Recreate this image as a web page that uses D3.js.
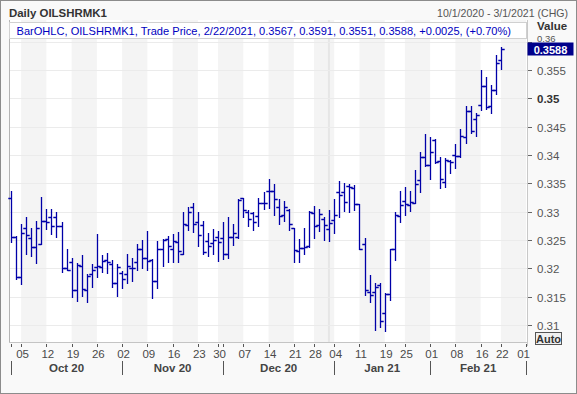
<!DOCTYPE html>
<html><head><meta charset="utf-8">
<script src="https://cdn.jsdelivr.net/npm/d3@7"></script>
<style>html,body{margin:0;padding:0;background:#fff;} svg{display:block;font-family:"Liberation Sans",Arial,sans-serif;}</style>
</head><body><svg id="c" width="577" height="394"></svg>
<script>
// ---------- data ----------
const tradingDays = [
"2020-10-01","2020-10-02","2020-10-05","2020-10-06","2020-10-07","2020-10-08","2020-10-09",
"2020-10-12","2020-10-13","2020-10-14","2020-10-15","2020-10-16","2020-10-19","2020-10-20",
"2020-10-21","2020-10-22","2020-10-23","2020-10-26","2020-10-27","2020-10-28","2020-10-29","2020-10-30",
"2020-11-02","2020-11-03","2020-11-04","2020-11-05","2020-11-06","2020-11-09","2020-11-10",
"2020-11-11","2020-11-12","2020-11-13","2020-11-16","2020-11-17","2020-11-18","2020-11-19","2020-11-20",
"2020-11-23","2020-11-24","2020-11-25","2020-11-27","2020-11-30",
"2020-12-01","2020-12-02","2020-12-03","2020-12-04","2020-12-07","2020-12-08","2020-12-09",
"2020-12-10","2020-12-11","2020-12-14","2020-12-15","2020-12-16","2020-12-17","2020-12-18",
"2020-12-21","2020-12-22","2020-12-23","2020-12-24","2020-12-28","2020-12-29","2020-12-30","2020-12-31",
"2021-01-04","2021-01-05","2021-01-06","2021-01-07","2021-01-08","2021-01-11","2021-01-12",
"2021-01-13","2021-01-14","2021-01-15","2021-01-19","2021-01-20","2021-01-21","2021-01-22",
"2021-01-25","2021-01-26","2021-01-27","2021-01-28","2021-01-29",
"2021-02-01","2021-02-02","2021-02-03","2021-02-04","2021-02-05","2021-02-08","2021-02-09",
"2021-02-10","2021-02-11","2021-02-12","2021-02-16","2021-02-17","2021-02-18","2021-02-19",
"2021-02-22","2021-02-23","2021-02-24","2021-02-25","2021-02-26","2021-03-01"];

const barOpen = [
.3324,.3256,.3184,.3271,.3253,.3237,.3243,.3284,.3290,.3291,.3274,.3200,.3212,.3162,.3205,.3162,.3190,.3202,.3202,.3215,
.3207,.3175,.3191,.3190,.3201,.3212,.3235,.3219,.3215,.3178,.3234,.3252,.3234,.3247,.3225,.3276,.3308,.3282,.3276,.3248,
.3245,.3255,.3253,.3226,.3256,.3256,.3324,.3300,.3297,.3292,.3316,.3336,.3336,.3308,.3294,.3303,.3271,.3231,.3236,.3239,
.3298,.3276,.3287,.3270,.3285,.3334,.3335,.3345,.3342,.3313,.3243,.3159,.3159,.3171,.3122,.3155,.3234,.3293,.3319,.3311,
.3315,.3356,.3397,.3382,.3426,.3390,.3352,.3389,.3400,.3399,.3432,.3478,.3464,.3488,.3521,.3487,.3515,.3567];
const barHigh = [
.3336,.3257,.3279,.3291,.3272,.3284,.3326,.3304,.3304,.3299,.3281,.3234,.3218,.3209,.3224,.3190,.3208,.3261,.3224,.3228,
.3215,.3207,.3195,.3225,.3219,.3243,.3250,.3266,.3216,.3249,.3252,.3258,.3261,.3264,.3300,.3308,.3315,.3299,.3284,.3262,
.3270,.3266,.3281,.3290,.3279,.3322,.3325,.3303,.3300,.3325,.3335,.3358,.3349,.3322,.3319,.3304,.3271,.3252,.3272,.3301,
.3310,.3304,.3291,.3303,.3322,.3354,.3350,.3349,.3348,.3313,.3254,.3188,.3175,.3174,.3156,.3235,.3299,.3336,.3343,.3337,
.3374,.3406,.3438,.3431,.3428,.3396,.3394,.3392,.3419,.3446,.3486,.3486,.3474,.3550,.3537,.3524,.3576,.3591];
const barLow = [
.3246,.3182,.3172,.3226,.3221,.3209,.3243,.3269,.3260,.3256,.3194,.3197,.3150,.3143,.3152,.3141,.3168,.3185,.3194,.3192,
.3168,.3152,.3166,.3174,.3178,.3198,.3200,.3198,.3148,.3165,.3205,.3212,.3212,.3212,.3225,.3268,.3264,.3239,.3225,.3222,
.3225,.3213,.3216,.3219,.3241,.3254,.3291,.3274,.3268,.3275,.3304,.3307,.3295,.3279,.3283,.3268,.3211,.3211,.3225,.3237,
.3254,.3266,.3250,.3249,.3262,.3290,.3302,.3299,.3303,.3234,.3153,.3141,.3092,.3096,.3090,.3145,.3214,.3282,.3295,.3302,
.3315,.3335,.3381,.3357,.3386,.3341,.3343,.3368,.3378,.3396,.3422,.3439,.3434,.3479,.3482,.3475,.3507,.3551];
const barClose = [
.3255,.3184,.3263,.3259,.3237,.3271,.3284,.3282,.3274,.3274,.3200,.3197,.3162,.3206,.3163,.3186,.3198,.3204,.3213,.3211,
.3175,.3202,.3182,.3204,.3200,.3234,.3219,.3213,.3178,.3235,.3250,.3240,.3248,.3231,.3278,.3300,.3278,.3259,.3229,.3239,
.3250,.3247,.3225,.3256,.3262,.3321,.3303,.3287,.3281,.3315,.3315,.3336,.3322,.3293,.3309,.3279,.3232,.3236,.3238,.3299,
.3275,.3296,.3276,.3280,.3294,.3329,.3318,.3343,.3313,.3235,.3161,.3153,.3168,.3108,.3155,.3234,.3294,.3312,.3313,.3318,
.3349,.3397,.3382,.3405,.3387,.3358,.3391,.3388,.3399,.3434,.3478,.3442,.3471,.3521,.3485,.3515,.3562,.3588];

const weekStarts = ["2020-10-05","2020-10-12","2020-10-19","2020-10-26","2020-11-02","2020-11-09","2020-11-16",
"2020-11-23","2020-11-30","2020-12-07","2020-12-14","2020-12-21","2020-12-28","2021-01-04","2021-01-11",
"2021-01-19","2021-01-25","2021-02-01","2021-02-08","2021-02-16","2021-02-22","2021-03-01"];
const weekLabels = ["05","12","19","26","02","09","16","23","30","07","14","21","28","04","11","19","25","01","08","16","22","01"];
const monthStarts = ["2020-10-01","2020-11-02","2020-12-01","2021-01-04","2021-02-01","2021-03-01"];
const monthLabels = ["Oct 20","Nov 20","Dec 20","Jan 21","Feb 21"];
const yTicks = [0.31,0.315,0.32,0.325,0.33,0.335,0.34,0.345,0.35,0.355,0.36];
const yTickLabels = ["0.31","0.315","0.32","0.325","0.33","0.335","0.34","0.345","0.35","0.355","0.36"];
const boldTick = "0.35";
const titleText = "Daily OILSHRMK1";
const rangeText = "10/1/2020 - 3/1/2021 (CHG)";
const legendText = "BarOHLC, OILSHRMK1, Trade Price, 2/22/2021, 0.3567, 0.3591, 0.3551, 0.3588, +0.0025, (+0.70%)";
const lastPrice = 0.3588;
const lastPriceLabel = "0.3588";
const yearBreak = "2020-12-31";

// ---------- layout ----------
const W = 577, H = 394;
const plot = {left: 9, right: 527, top: 20, bottom: 342};
const barColor = "#0000a8";

const svg = d3.select("#c");
svg.append("rect").attr("x",0.5).attr("y",0.5).attr("width",W-1).attr("height",H-1)
  .attr("fill","#f9f9f9").attr("stroke","#8c8c8c");

const x = d3.scalePoint().domain(tradingDays).range([11, 526.1]);
const y = d3.scaleLinear().domain([0.30701, 0.36383]).range([plot.bottom, plot.top]);

// plot background
svg.append("rect").attr("x",plot.left).attr("y",plot.top).attr("width",plot.right-plot.left)
  .attr("height",plot.bottom-plot.top).attr("fill","#ffffff");

// alternating week bands
const bandG = svg.append("g");
weekStarts.forEach((d,k)=>{
  if (k%2===0 && k+1<weekStarts.length){
    const x0 = x(d), x1 = x(weekStarts[k+1]);
    bandG.append("rect").attr("x",x0).attr("y",plot.top).attr("width",x1-x0)
      .attr("height",plot.bottom-plot.top).attr("fill","#f4f4f4");
  }
});
// year break line
svg.append("rect").attr("x",x(yearBreak)-1.2).attr("y",plot.top).attr("width",2)
  .attr("height",plot.bottom-plot.top).attr("fill","#e6e6e6");

// horizontal grid
svg.append("g").selectAll("line").data(yTicks).join("line")
  .attr("x1",plot.left).attr("x2",plot.right)
  .attr("y1",d=>Math.round(y(d))+0.5).attr("y2",d=>Math.round(y(d))+0.5)
  .attr("stroke","#ebebeb").attr("stroke-width",1);

// plot borders
svg.append("line").attr("x1",plot.left+0.5).attr("x2",plot.left+0.5).attr("y1",plot.top).attr("y2",plot.bottom)
  .attr("stroke","#b4b4b4");
svg.append("line").attr("x1",plot.right+0.5).attr("x2",plot.right+0.5).attr("y1",plot.top).attr("y2",plot.bottom+4)
  .attr("stroke","#c8c8c8");
svg.append("line").attr("x1",plot.left).attr("x2",plot.right).attr("y1",plot.bottom+0.5).attr("y2",plot.bottom+0.5)
  .attr("stroke","#c4c4c4");

// OHLC bars
const bars = barOpen.map((o,i)=>({d:tradingDays[i],o,h:barHigh[i],l:barLow[i],c:barClose[i]}));
const snap = v => Math.round(v)+0.5;
svg.append("g").selectAll("path").data(bars).join("path")
  .attr("d",b=>{
    const cx = snap(x(b.d));
    const yo = snap(y(b.o)), yc = snap(y(b.c));
    return `M${cx},${Math.round(y(b.h))}V${Math.round(y(b.l))+1}M${cx-3.2},${yo}H${cx}M${cx},${yc}H${cx+3.2}`;
  })
  .attr("fill","none").attr("stroke",barColor).attr("stroke-width",1.3);

// legend box
svg.append("rect").attr("x",plot.left+0.5).attr("y",22.5).attr("width",517).attr("height",16)
  .attr("fill","#ffffff").attr("stroke","#d0d0d0");
function fit(sel, target){
  const w = sel.node().getComputedTextLength();
  const fs = parseFloat(sel.attr("font-size"));
  sel.attr("font-size", (fs*target/w).toFixed(2));
}
const lg = svg.append("text").attr("x",16.5).attr("y",34.5).attr("font-size",11)
  .attr("fill","#0000c0").text(legendText);
fit(lg, 495);

// title & range
const tt = svg.append("text").attr("x",9).attr("y",16.5).attr("font-size",11.5).attr("font-weight","bold")
  .attr("fill","#333").text(titleText);
fit(tt, 98);
const rt = svg.append("text").attr("x",568).attr("y",16.5).attr("text-anchor","end").attr("font-size",11)
  .attr("fill","#555").text(rangeText);
fit(rt, 131);

// y axis (right)
const yg = svg.append("g");
yTicks.forEach((v,k)=>{
  const yy = Math.round(y(v))+0.5;
  const top = k===yTicks.length-1;
  yg.append("line").attr("x1",plot.right+1).attr("x2",plot.right+5).attr("y1",yy).attr("y2",yy).attr("stroke","#666");
  yg.append("text").attr("x",537).attr("y",top ? 41.6 : yy+4).attr("font-size",top ? 9.5 : 11.5)
    .attr("font-weight",yTickLabels[k]===boldTick?"bold":"normal")
    .attr("fill",yTickLabels[k]===boldTick?"#333":"#555").text(yTickLabels[k]);
});
svg.append("text").attr("x",537).attr("y",30).attr("font-size",11.5).attr("font-weight","bold")
  .attr("fill","#333").text("Value");
// last price box
const ly = y(lastPrice);
svg.append("rect").attr("x",527.5).attr("y",Math.round(ly)-6.5).attr("width",46).attr("height",13)
  .attr("fill","#00008b");
svg.append("text").attr("x",550.5).attr("y",Math.round(ly)+4.5).attr("text-anchor","middle")
  .attr("font-size",11).attr("font-weight","bold").attr("fill","#fff").text(lastPriceLabel);

// Auto button
svg.append("rect").attr("x",535.5).attr("y",332.5).attr("width",26).attr("height",12)
  .attr("fill","#f0f0f0").attr("stroke","#555");
svg.append("text").attr("x",548.5).attr("y",342.5).attr("text-anchor","middle").attr("font-size",11)
  .attr("font-weight","bold").attr("fill","#333").text("Auto");

// x axis ticks
const tickDays = Array.from(new Set([...weekStarts, ...monthStarts]));
svg.append("g").selectAll("line").data(tickDays).join("line")
  .attr("x1",d=>Math.round(x(d))+0.5).attr("x2",d=>Math.round(x(d))+0.5)
  .attr("y1",plot.bottom+2).attr("y2",plot.bottom+5).attr("stroke","#555");
svg.append("g").selectAll("text").data(weekStarts).join("text")
  .attr("x",(d,i)=> i===weekStarts.length-1 ? x(d)-2.5 : x(d)+1.5)
  .attr("y",358).attr("text-anchor","middle").attr("font-size",11.5).attr("fill","#4a4a4a")
  .text((d,i)=>weekLabels[i]);
// month separators and labels
svg.append("g").selectAll("line").data(monthStarts).join("line")
  .attr("x1",d=>Math.round(x(d))+0.5).attr("x2",d=>Math.round(x(d))+0.5)
  .attr("y1",361).attr("y2",375).attr("stroke","#555");
svg.append("g").selectAll("text").data(monthLabels).join("text")
  .attr("x",(d,i)=>(x(monthStarts[i])+x(monthStarts[i+1]))/2)
  .attr("y",372).attr("text-anchor","middle").attr("font-size",11.5).attr("font-weight","bold")
  .attr("fill","#444").text(d=>d);
</script></body></html>
